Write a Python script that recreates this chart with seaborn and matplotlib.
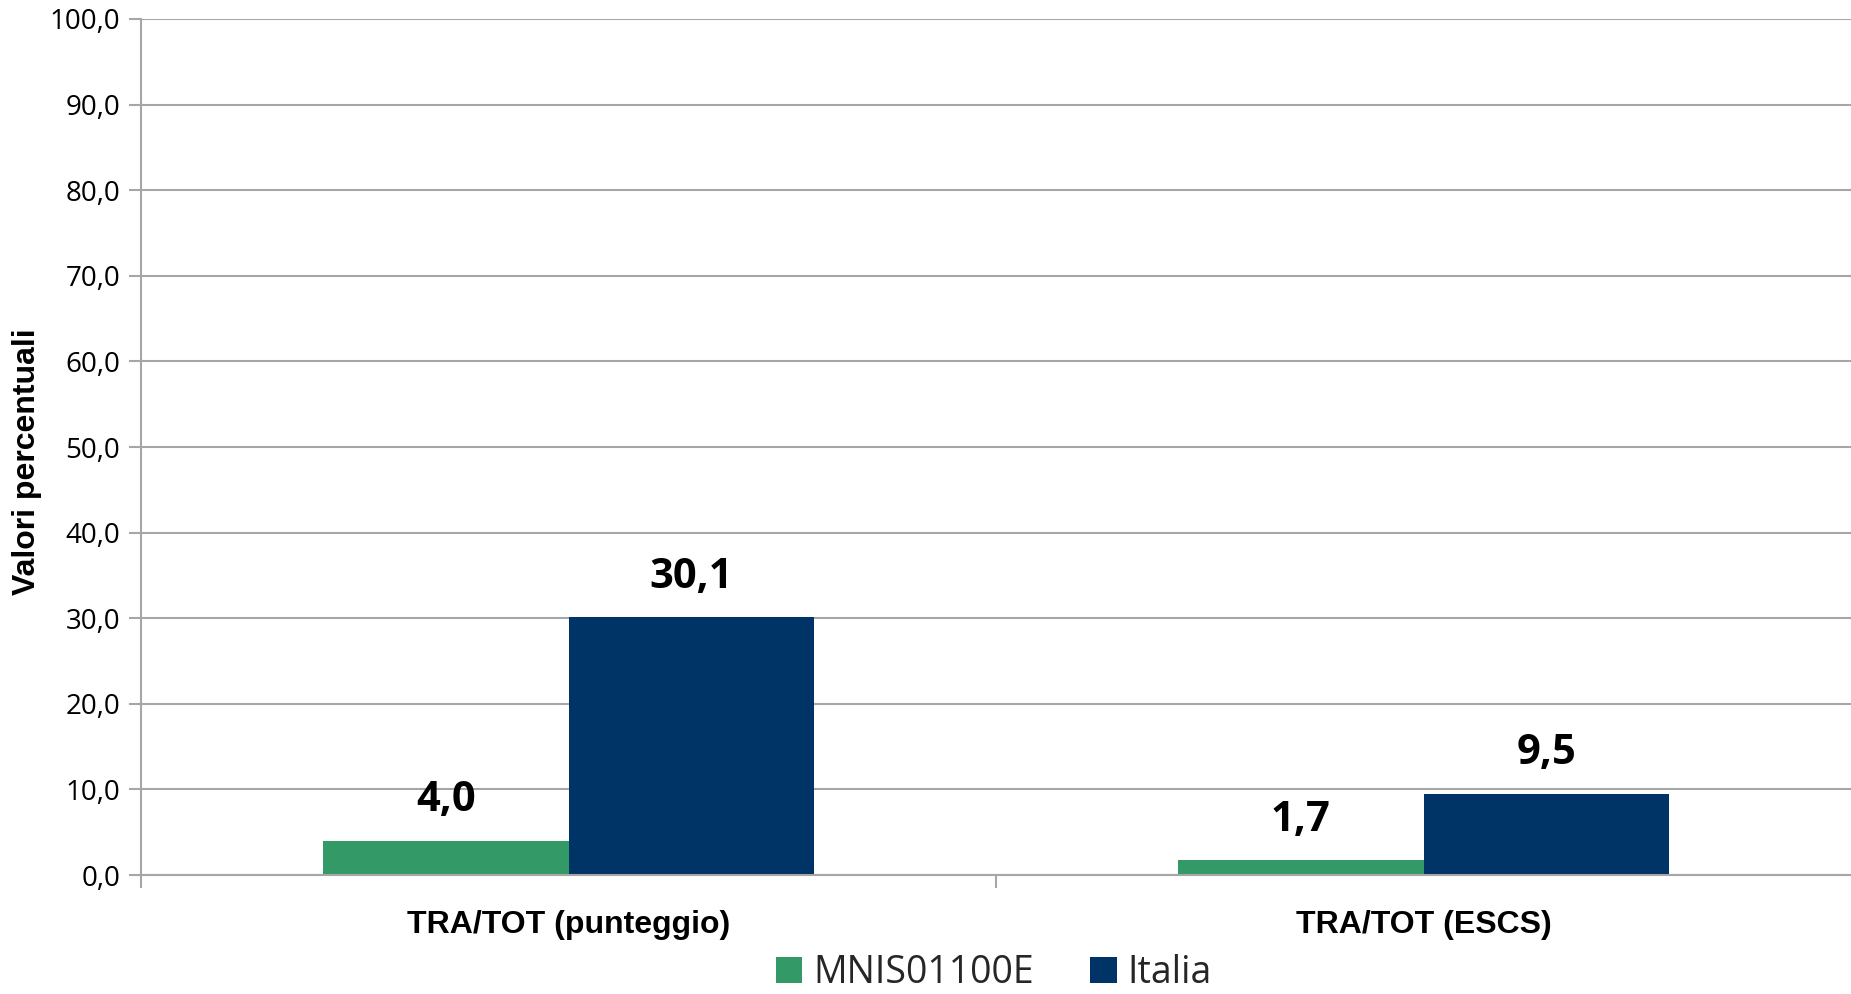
import numpy as np
import pandas as pd
import seaborn as sns
import matplotlib.pyplot as plt
from matplotlib import font_manager
from matplotlib.patches import Patch

# values
categories = ["TRA/TOT (punteggio)", "TRA/TOT (ESCS)"]
series = ["MNIS01100E", "Italia"]
school_values = [4.0, 1.7]
italy_values = [30.1, 9.5]
y_ticks = [0, 10, 20, 30, 40, 50, 60, 70, 80, 90, 100]
colors = ["#339966", "#003366"]
grid_gray = "#a6a6a6"

data = pd.DataFrame({
    "categoria": categories * 2,
    "serie": [series[0]] * len(categories) + [series[1]] * len(categories),
    "valore": school_values + italy_values,
})


def comma(v):
    return f"{v:.1f}".replace(".", ",")


# Calibri-like narrow face if present
names = {f.name for f in font_manager.fontManager.ttflist}
narrow = "Liberation Sans Narrow" if "Liberation Sans Narrow" in names else "Open Sans"

sns.set_theme(style="white")
plt.rcParams["font.family"] = ["Liberation Sans", "DejaVu Sans"]

fig = plt.figure(figsize=(18.51, 9.94), dpi=100)
ax = fig.add_axes([0.0762, 0.1197, 0.9238, 0.8612])

sns.barplot(data=data, x="categoria", y="valore", hue="serie",
            order=categories, hue_order=series, palette=colors,
            width=0.574, gap=0, saturation=1, errorbar=None,
            linewidth=0, legend=False, ax=ax)

# data labels above the bars
for cont in ax.containers:
    ax.bar_label(cont, labels=[comma(v) for v in cont.datavalues],
                 padding=14, fontsize=30, fontweight="bold",
                 family=[narrow, "DejaVu Sans"], color="black")

ax.set_xlim(-0.5, 1.5)
ax.set_ylim(0, 100)
ax.set_yticks(y_ticks)
ax.set_yticklabels([comma(t) for t in y_ticks], family=[narrow, "DejaVu Sans"],
                   fontsize=20, color="black")
ax.yaxis.grid(True, color=grid_gray, linewidth=1.5)
ax.set_axisbelow(True)

ax.tick_params(axis="y", length=9, width=1.5, color=grid_gray, pad=6, left=True)
ax.tick_params(axis="x", which="major", length=0, pad=25)
ax.set_xticks([-0.5, 0.5], minor=True)
ax.tick_params(axis="x", which="minor", length=9, width=1.5, color=grid_gray,
               direction="out", bottom=True)
for lab in ax.get_xticklabels():
    lab.set_fontsize(23)
    lab.set_fontweight("bold")
    lab.set_color("black")

for side in ["top", "right"]:
    ax.spines[side].set_visible(False)
for side in ["left", "bottom"]:
    ax.spines[side].set_color(grid_gray)
    ax.spines[side].set_linewidth(1.5)

ax.set_xlabel("")
ax.set_ylabel("Valori percentuali", fontsize=23, fontweight="bold", color="black")
ax.yaxis.set_label_coords(-0.058, 0.4825)

handles = [Patch(facecolor=c, edgecolor="none") for c in colors]
fig.legend(handles, series, loc="center", bbox_to_anchor=(0.537, 0.021),
           ncol=2, frameon=False, prop={"family": [narrow, "DejaVu Sans"], "size": 27},
           handlelength=0.7, handleheight=0.7, handletextpad=0.3,
           columnspacing=1.5, borderpad=0)

fig.savefig("out.png", dpi=100)
